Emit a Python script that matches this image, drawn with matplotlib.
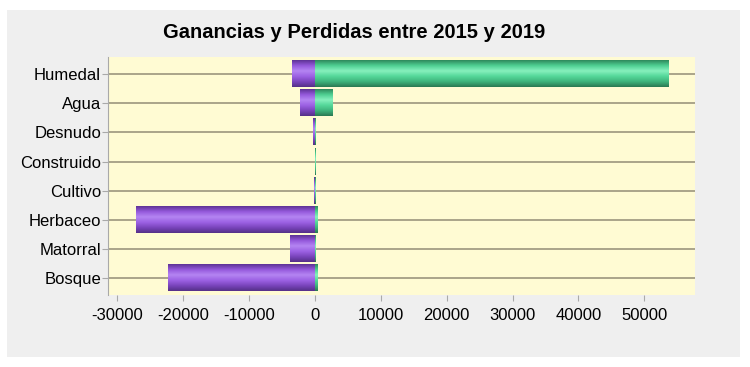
import numpy as np
import matplotlib.pyplot as plt
from matplotlib.colors import LinearSegmentedColormap
from matplotlib.patches import Rectangle

plt.rcParams["font.family"] = ["Liberation Sans", "DejaVu Sans"]

# Data (hectares)
categorias = ["Humedal", "Agua", "Desnudo", "Construido", "Cultivo",
              "Herbaceo", "Matorral", "Bosque"]
perdidas = [-3500, -2200, -250, -40, -60, -27200, -3800, -22300]
ganancias = [53700, 2600, 80, 150, 150, 350, 60, 350]
xticks = [-30000, -20000, -10000, 0, 10000, 20000, 30000, 40000, 50000]

# Cylinder-like shading for the bars
cmap_morado = LinearSegmentedColormap.from_list(
    "morado", ["#5e3396", "#9559dc", "#b485f2", "#9d62e4", "#7a45bd", "#553088"])
cmap_verde = LinearSegmentedColormap.from_list(
    "verde", ["#2f8a5c", "#4fcf92", "#86f0bd", "#55d89a", "#3fb47c", "#2b7a53"])

fig = plt.figure(figsize=(7.5, 3.67), dpi=100)
fig.patch.set_facecolor("white")
fondo = Rectangle((7 / 750, 10 / 367), 733 / 750, 347 / 367,
                  transform=fig.transFigure, facecolor="#efefef",
                  edgecolor="none", zorder=-1)
fig.add_artist(fondo)

ax = fig.add_axes([108 / 750, 72 / 367, 587 / 750, 238.3 / 367])
ax.set_zorder(1)
ax.set_facecolor("#fffbd3")

h = 0.9
grad = np.linspace(0, 1, 64).reshape(-1, 1)
ys = np.arange(len(categorias))
for y, p, g in zip(ys, perdidas, ganancias):
    ax.axhline(y, color="#aaa48a", lw=1.4, zorder=1)
    if p != 0:
        ax.imshow(grad, cmap=cmap_morado, aspect="auto", origin="upper",
                  extent=[p, 0, y + h / 2, y - h / 2], zorder=2)
    if g != 0:
        ax.imshow(grad, cmap=cmap_verde, aspect="auto", origin="upper",
                  extent=[0, g, y + h / 2, y - h / 2], zorder=3)

ax.set_xlim(-31400, 57700)
ax.set_ylim(len(categorias) - 1 + 0.57, -0.59)
ax.set_yticks(ys)
ax.set_yticklabels(categorias)
ax.set_xticks(xticks)
ax.set_xticklabels([str(v) for v in xticks])

for s in ["top", "right", "bottom"]:
    ax.spines[s].set_visible(False)
ax.spines["left"].set_color("#a9a9a9")
ax.tick_params(axis="y", length=4, color="#a9a9a9", labelsize=12, pad=1)
ax.tick_params(axis="x", length=4, color="#a9a9a9", labelsize=12, pad=5)

fig.text(354 / 750, 1 - 33 / 367, "Ganancias y Perdidas entre 2015 y 2019",
         ha="center", va="center", fontsize=14.5, fontweight="bold")

fig.savefig("out.png", dpi=100)
